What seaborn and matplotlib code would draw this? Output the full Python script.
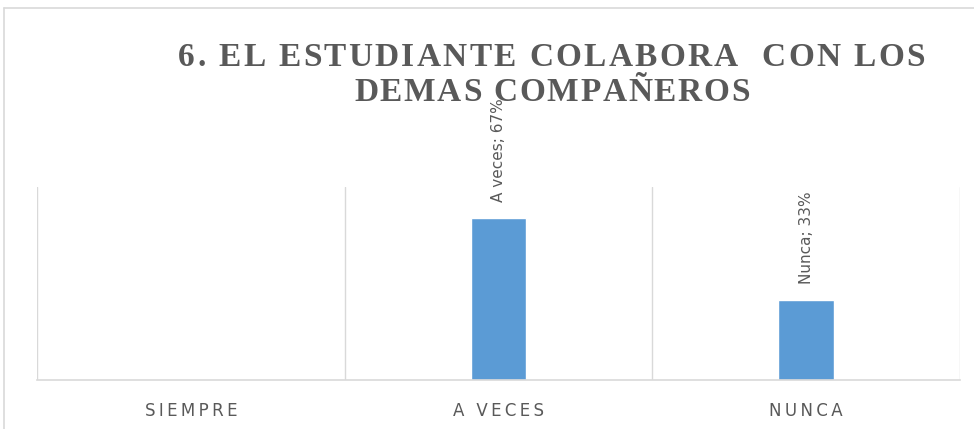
import matplotlib
matplotlib.use("Agg")
import matplotlib.pyplot as plt
import seaborn as sns
import pandas as pd
from matplotlib.lines import Line2D
from matplotlib.textpath import TextToPath
from matplotlib.font_manager import FontProperties

categories = ["SIEMPRE", "A VECES", "NUNCA"]
values = [0.0, 0.67, 0.33]
label_names = ["Siempre", "A veces", "Nunca"]
title_lines = ["6. EL ESTUDIANTE COLABORA  CON LOS", "DEMAS COMPAÑEROS"]

DPI = 100
W, H = 974, 429

sns.set_theme(style="white")
plt.rcParams['font.family'] = ['DejaVu Sans']

ttp = TextToPath()

def spaced_text(fig, text, cx_px, base_px, target_w_px, prop, color):
    widths = []
    for ch in text:
        w, h, d = ttp.get_text_width_height_descent(ch, prop, ismath=False)
        widths.append(w * DPI / 72.0)
    natural = sum(widths)
    track = (target_w_px - natural) / max(len(text) - 1, 1)
    x = cx_px - target_w_px / 2.0
    for ch, w in zip(text, widths):
        if ch != " ":
            fig.text(x / W, 1 - base_px / H, ch, fontproperties=prop, color=color,
                     ha="left", va="baseline")
        x += w + track

df = pd.DataFrame({"cat": categories, "val": values})

fig = plt.figure(figsize=(W / DPI, H / DPI), dpi=DPI)
ax = fig.add_axes([37/W, 1-380/H, (960-37)/W, (380-187)/H])

sns.barplot(data=df, x="cat", y="val", color="#5b9bd5", width=0.18, ax=ax,
            saturation=1, order=categories)

ax.set_xlim(-0.5, 2.5)
ax.set_ylim(0, 0.8)
ax.set_yticks([])
ax.set_xlabel("")
ax.set_ylabel("")
for s in ["top", "right", "left"]:
    ax.spines[s].set_visible(False)
ax.spines["bottom"].set_color("#d9d9d9")
ax.spines["bottom"].set_linewidth(1.2)
for xb in [-0.5, 0.5, 1.5, 2.5]:
    ax.axvline(xb, color="#d9d9d9", lw=1.0, zorder=0)

ax.set_xticks(range(len(categories)))
ax.set_xticklabels(["\u2009".join(c) for c in categories], color="#595959", fontsize=12)
ax.tick_params(axis="x", length=0, pad=16)

for i, (v, n) in enumerate(zip(values, label_names)):
    if v > 0:
        ax.annotate(f"{n}; {int(round(v*100))}%", xy=(i, v), xytext=(0, 11.5),
                    textcoords="offset points", rotation=90, ha="center", va="bottom",
                    color="#595959", fontsize=11)

tprop = FontProperties(family="Liberation Serif", weight="bold", size=24)
spaced_text(fig, title_lines[0], 551.5, 66, 747, tprop, "#595959")
spaced_text(fig, title_lines[1], 552, 101, 396, tprop, "#595959")

fig.add_artist(Line2D([4/W, 1], [1-8/H, 1-8/H], transform=fig.transFigure, color="#d9d9d9", lw=1.2))
fig.add_artist(Line2D([4/W, 4/W], [0, 1-8/H], transform=fig.transFigure, color="#d9d9d9", lw=1.2))

fig.savefig("out.png", dpi=DPI)
